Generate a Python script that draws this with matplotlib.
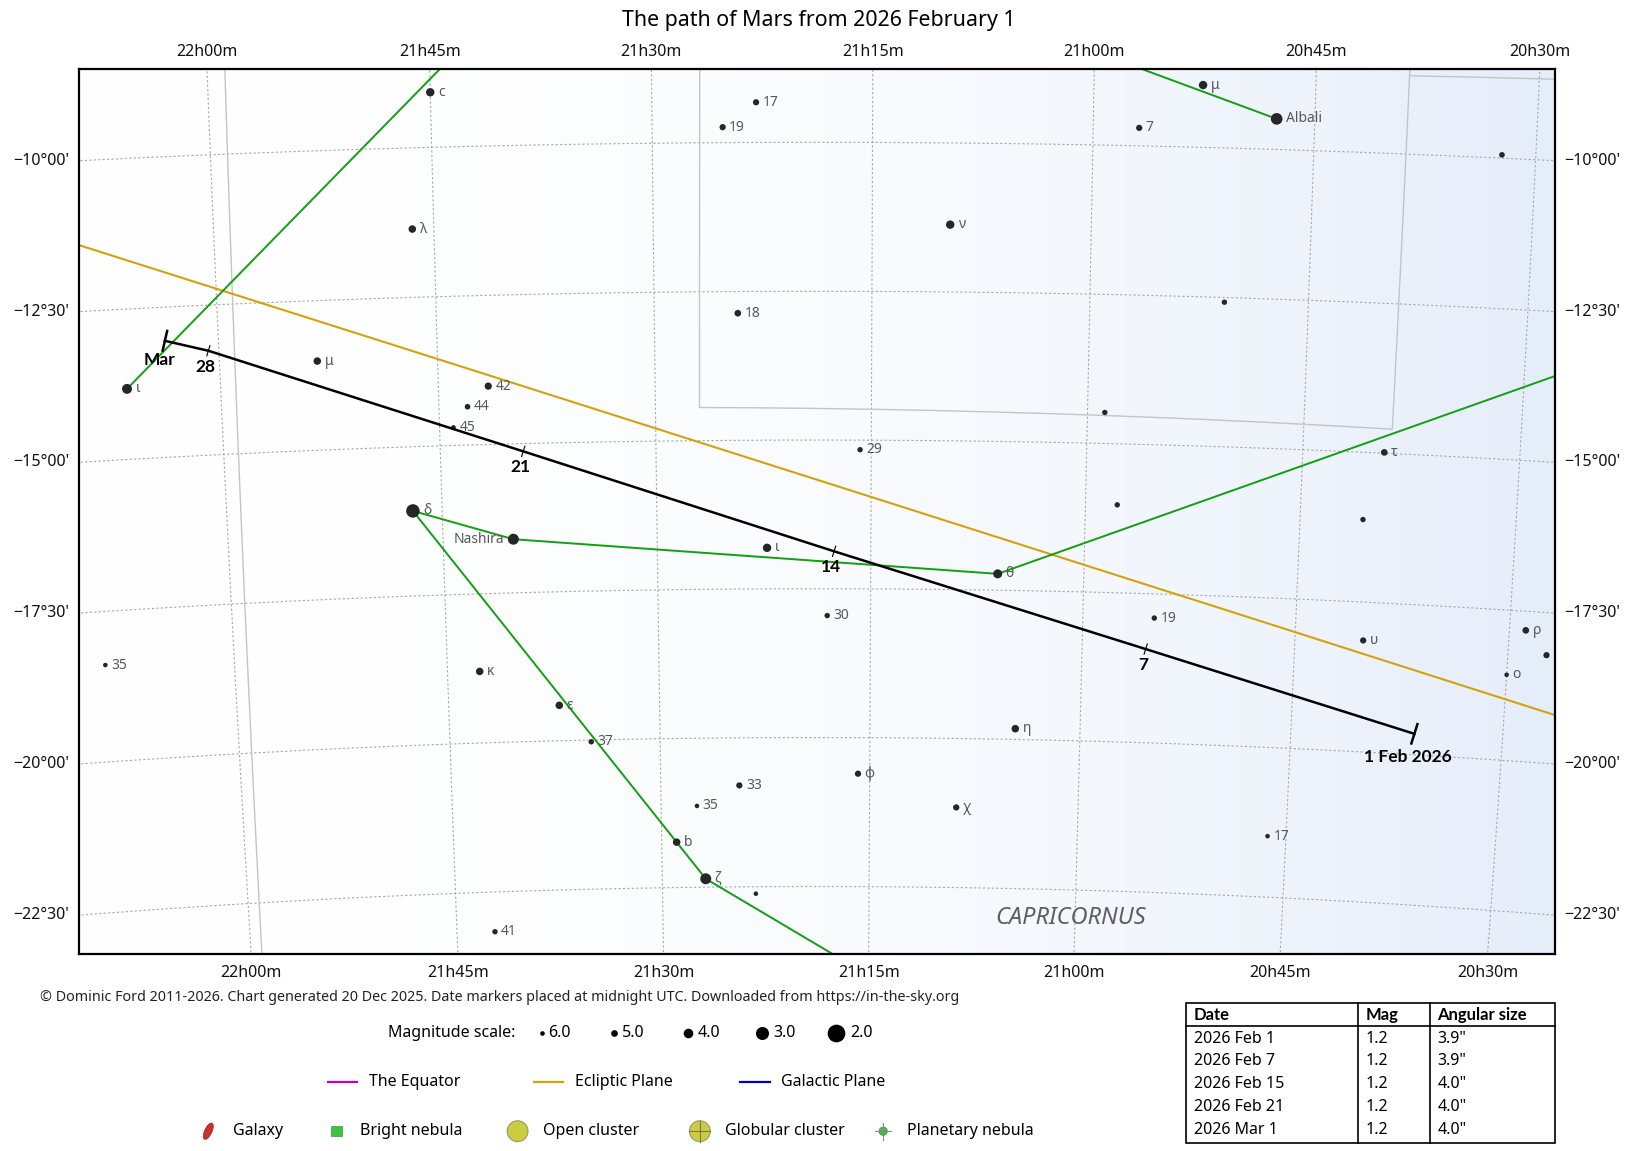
import numpy as np
import matplotlib.pyplot as plt
from matplotlib.patches import Ellipse, Rectangle, Circle

plt.rcParams['font.family'] = ['Noto Sans', 'DejaVu Sans']
BOLD = ['Lato', 'DejaVu Sans']

# -----data-----
title = "The path of Mars from 2026 February 1"

mars_label = ['1 Feb 2026', '7', '14', '21', '28', 'Mar']
mars_ra = [20.604, 20.925, 21.293, 21.654, 22.012, 22.061]   # hours
mars_dec = [-19.65, -18.43, -16.87, -15.13, -13.26, -13.06]  # degrees

star_key = ['c', 'lam', '17a', '19a', '18', 'mu_cap', 'iota_aqr', '42', '44', '45',
            'mu_aqr', 'albali', '7', 's1', 'nu_aqr', 's2', 's3', '29', 'tau',
            'delta', 'nashira', 'iota_cap', 'theta', 's4', 's5', '30', '19c',
            'upsilon', 'rho', 'pi', 'omicron', '35a', 'kappa', 'epsilon', '37',
            'eta', 'phi', '33', '35c', 'chi', '17c', 'b', 'zeta', 's6', '41']
star_label = ['c', 'λ', '17', '19', '18', 'μ', 'ι', '42', '44', '45',
              'μ', 'Albali', '7', '', 'ν', '', '', '29', 'τ',
              'δ', 'Nashira', 'ι', 'θ', '', '', '30', '19',
              'υ', 'ρ', '', 'ο', '35', 'κ', 'ε', '37',
              'η', 'φ', '33', '35', 'χ', '17', 'b', 'ζ', '', '41']
star_ra = [21.750, 21.7745, 21.382, 21.420, 21.404, 21.888, 22.107, 21.6925, 21.717, 21.734,
           20.877, 20.793, 20.948, 20.538, 21.161, 20.846, 20.980, 21.263, 20.656,
           21.784, 21.668, 21.3715, 21.101, 20.963, 20.677, 21.301, 20.916,
           20.670, 20.481, 20.455, 20.500, 22.151, 21.712, 21.619, 21.582,
           21.077, 21.264, 21.406, 21.457, 21.146, 20.772, 21.482, 21.4475, 21.387, 21.704]
star_dec = [-9.08, -11.357, -9.327, -9.741, -12.864, -13.51, -13.826, -14.022, -14.358, -14.699,
            -8.96, -9.49, -9.70, -9.945, -11.37, -12.579, -14.48, -15.161, -14.986,
            -16.075, -16.60, -16.81, -17.225, -16.025, -16.123, -17.951, -17.906,
            -18.14, -17.818, -18.207, -18.576, -18.39, -18.80, -19.406, -20.03,
            -19.82, -20.606, -20.799, -21.136, -21.157, -21.482, -21.739, -22.359, -22.617, -23.164]
star_mag = [4.4, 4.7, 5.2, 5.2, 5.0, 4.7, 3.9, 4.8, 5.5, 5.9,
            4.4, 3.4, 5.2, 5.5, 4.4, 5.6, 5.6, 5.6, 5.0,
            2.9, 3.6, 4.4, 4.2, 5.6, 5.6, 5.6, 5.6,
            5.2, 5.0, 5.2, 6.0, 6.0, 4.7, 4.7, 5.6,
            4.7, 5.2, 5.2, 6.0, 5.2, 6.0, 4.7, 3.6, 6.0, 5.6]

# stars off the chart that constellation lines run to
off_key = ['beta_aqr', 'alpha2_cap', 'omega_cap']
off_ra = [21.526, 20.3008, 20.8636]
off_dec = [-5.571, -12.545, -26.919]

figure_lines = [('iota_aqr', 'beta_aqr'), ('albali', 'beta_aqr'), ('delta', 'nashira'),
                ('nashira', 'theta'), ('theta', 'alpha2_cap'), ('delta', 'zeta'),
                ('zeta', 'omega_cap')]

# constellation boundaries (ra hours, dec degrees)
boundaries = [
    ([21.9797, 21.9875], [-8.0, -24.3]),
    ([21.445, 21.449, 20.648, 20.645], [-8.0, -14.443, -14.593, -8.0]),
    ([20.645, 20.40], [-8.697, -8.63]),
]

table_date = ['2026 Feb 1', '2026 Feb 7', '2026 Feb 15', '2026 Feb 21', '2026 Mar 1']
table_mag = ['1.2', '1.2', '1.2', '1.2', '1.2']
table_size = ['3.9"', '3.9"', '4.0"', '4.0"', '4.0"']

legend_mags = [6.0, 5.0, 4.0, 3.0, 2.0]

# -----projection (stereographic, centred on the chart)-----
RA0, DEC0 = 21.313, -16.2
SCALE = 57.1  # layout px per degree


def proj(ra_h, dec_d):
    a = np.radians((np.asarray(ra_h, float) - RA0) * 15)
    d = np.radians(np.asarray(dec_d, float))
    d0 = np.radians(DEC0)
    cosc = np.sin(d0) * np.sin(d) + np.cos(d0) * np.cos(d) * np.cos(a)
    k = 2 / (1 + cosc)
    xi = k * np.cos(d) * np.sin(a)
    eta = k * (np.cos(d0) * np.sin(d) - np.sin(d0) * np.cos(d) * np.cos(a))
    return -np.degrees(xi), np.degrees(eta)


def diam(m):
    # star dot diameter in points
    return np.interp(m, [2, 3, 4, 5, 6], [17, 12.5, 9.2, 6.4, 4.4]) * 0.75


W, H = 1568.0, 1105.0
fig = plt.figure(figsize=(16.33, 11.51), dpi=100)
ax = fig.add_axes([76 / W, 1 - 916 / H, 1417 / W, 850 / H])
x0, x1 = -1417 / 2 / SCALE, 1417 / 2 / SCALE
y0, y1 = -850 / 2 / SCALE, 850 / 2 / SCALE
ax.set_xlim(x0, x1)
ax.set_ylim(y0, y1)
ax.set_xticks([])
ax.set_yticks([])
for s in ax.spines.values():
    s.set_linewidth(1.6)
    s.set_zorder(20)

# milky way tint
t = np.linspace(0, 1, 400) ** 2.2
bg = np.ones((2, 400, 3))
for i, c in enumerate([0.10, 0.07, 0.02]):
    bg[:, :, i] = 1 - c * t
ax.imshow(bg, extent=(x0, x1, y0, y1), aspect='auto', zorder=0, interpolation='bilinear')

grid_kw = dict(color='#a8a8a8', lw=0.8, linestyle=(0, (2, 2)), zorder=1)
lab_kw = dict(fontsize=11.5, color='#111111', annotation_clip=False)

# RA lines
for h in np.arange(20.25, 22.51, 0.25):
    decs = np.linspace(-30, -3, 600)
    X, Y = proj(np.full_like(decs, h), decs)
    ax.plot(X, Y, **grid_kw)
    if 20.4 < h < 22.1:
        txt = "%02dh%02dm" % (int(h), round((h % 1) * 60))
        ax.annotate(txt, (np.interp(y1, Y, X), y1), xytext=(0, 6), textcoords='offset points',
                    ha='center', va='bottom', **lab_kw)
        ax.annotate(txt, (np.interp(y0, Y, X), y0), xytext=(0, -8), textcoords='offset points',
                    ha='center', va='top', **lab_kw)

# Dec lines
for dd in np.arange(-25, -7.4, 2.5):
    ras = np.linspace(19.9, 22.6, 600)
    X, Y = proj(ras, np.full_like(ras, dd))
    ax.plot(X, Y, **grid_kw)
    if -23 < dd < -9:
        deg = int(abs(dd))
        mins = int(round((abs(dd) - deg) * 60))
        txt = "\u2212%d\u00b0%02d'" % (deg, mins)
        ax.annotate(txt, (x0, np.interp(x0, X[::-1], Y[::-1])), xytext=(-7, 0),
                    textcoords='offset points', ha='right', va='center', **lab_kw)
        ax.annotate(txt, (x1, np.interp(x1, X[::-1], Y[::-1])), xytext=(7, 0),
                    textcoords='offset points', ha='left', va='center', **lab_kw)

# boundaries
for bra, bdec in boundaries:
    pts_ra, pts_dec = [], []
    for i in range(len(bra) - 1):
        pts_ra.extend(np.linspace(bra[i], bra[i + 1], 60))
        pts_dec.extend(np.linspace(bdec[i], bdec[i + 1], 60))
    X, Y = proj(pts_ra, pts_dec)
    ax.plot(X, Y, color='#c4c4c4', lw=1.0, zorder=1.5)

# ecliptic
eps = np.radians(23.44)
lam = np.radians(np.linspace(270, 360, 400))
ecl_ra = (np.degrees(np.arctan2(np.sin(lam) * np.cos(eps), np.cos(lam))) % 360) / 15
ecl_dec = np.degrees(np.arcsin(np.sin(lam) * np.sin(eps)))
X, Y = proj(ecl_ra, ecl_dec)
ax.plot(X, Y, color='#d4a20a', lw=1.5, zorder=2)

# constellation figures
pos = {}
for k, r, d in zip(star_key + off_key, star_ra + off_ra, star_dec + off_dec):
    pos[k] = proj(r, d)
for a, b in figure_lines:
    ax.plot([pos[a][0], pos[b][0]], [pos[a][1], pos[b][1]], color='#10a010', lw=1.4, zorder=3)

# stars
SX, SY = proj(star_ra, star_dec)
dm = diam(np.array(star_mag))
ax.scatter(SX, SY, s=dm ** 2, c='#262626', linewidths=0, zorder=5)
for x, y, lbl, dd in zip(SX, SY, star_label, dm):
    if not lbl:
        continue
    if lbl == 'Nashira':
        ax.annotate(lbl, (x, y), xytext=(-(dd / 2 + 2.5), 0), textcoords='offset points',
                    ha='right', va='center', fontsize=10, color='#585858', zorder=6)
    else:
        ax.annotate(lbl, (x, y), xytext=(dd / 2 + 2.5, 0), textcoords='offset points',
                    ha='left', va='center', fontsize=10, color='#585858', zorder=6)

cx, cy = proj(21.005, -22.97)
ax.text(cx, cy, 'CAPRICORNUS', fontstyle='italic', fontsize=17, color='#5e5e5e',
        ha='center', va='center', zorder=6)

# mars path
MX, MY = proj(mars_ra, mars_dec)
ax.plot(MX, MY, color='black', lw=1.8, zorder=7)
for i in range(len(MX)):
    j0, j1 = max(i - 1, 0), min(i + 1, len(MX) - 1)
    dx, dy = MX[j1] - MX[j0], MY[j1] - MY[j0]
    n = np.hypot(dx, dy)
    px, py = -dy / n, dx / n
    end = i in (0, len(MX) - 1)
    half = 0.17 if end else 0.09
    ax.plot([MX[i] - half * px, MX[i] + half * px], [MY[i] - half * py, MY[i] + half * py],
            color='black', lw=1.8 if end else 0.8, zorder=7)
    off = {0: (-4.5, -16.5), len(MX) - 1: (-3.6, -13.5)}.get(i, (-2, -11.5))
    ax.annotate(mars_label[i], (MX[i], MY[i]), xytext=off, textcoords='offset points',
                ha='center', va='center', fontsize=12.5, fontweight='bold', family=BOLD,
                zorder=8)

# -----title & legend-----
fig.text(786 / W, 1 - 20 / H, title, ha='center', va='center', fontsize=15.4)

lax = fig.add_axes([0, 0, 1, 1], zorder=-1)
lax.set_xlim(0, W)
lax.set_ylim(H, 0)
lax.axis('off')

lax.text(38, 958, "\u00a9 Dominic Ford 2011-2026. Chart generated 20 Dec 2025. Date markers placed at "
         "midnight UTC. Downloaded from https://in-the-sky.org",
         ha='left', va='center', fontsize=10.3, color='#222222')

lax.text(495, 992, 'Magnitude scale:', ha='right', va='center', fontsize=11.5)
for xm, m in zip([520, 590, 661, 732, 803], legend_mags):
    lax.scatter([xm], [992], s=diam(m) ** 2, c='black', linewidths=0)
    lax.text(xm + diam(m) / 1.4 + 4, 992, '%.1f' % m, ha='left', va='center', fontsize=11.5)

for xl, col, name in [(315, '#c000c0', 'The Equator'), (513, '#d4a20a', 'Ecliptic Plane'),
                      (711, '#0000c8', 'Galactic Plane')]:
    lax.plot([xl, xl + 28], [1039, 1039], color=col, lw=1.6)
    lax.text(xl + 39, 1039, name, ha='left', va='center', fontsize=11.5)

ly = 1086
lax.add_patch(Ellipse((200, ly), 7, 17, angle=25, facecolor='#c8302a', edgecolor='#a02020', lw=0.5))
lax.text(224, ly, 'Galaxy', ha='left', va='center', fontsize=11.5)
lax.add_patch(Rectangle((318, ly - 5), 10, 10, facecolor='#40c040', edgecolor='#30a030', lw=0.5))
lax.text(346, ly, 'Bright nebula', ha='left', va='center', fontsize=11.5)
lax.add_patch(Circle((497, ly), 10, facecolor='#cccc40', edgecolor='#999966', lw=0.8))
lax.text(521, ly, 'Open cluster', ha='left', va='center', fontsize=11.5)
lax.add_patch(Circle((672, ly), 10, facecolor='#cccc40', edgecolor='#999966', lw=0.8))
lax.plot([662, 682], [ly, ly], color='#777755', lw=0.8)
lax.plot([672, 672], [ly - 10, ly + 10], color='#777755', lw=0.8)
lax.text(696, ly, 'Globular cluster', ha='left', va='center', fontsize=11.5)
lax.plot([840, 856], [ly, ly], color='#888888', lw=0.8)
lax.plot([848, 848], [ly - 8, ly + 8], color='#888888', lw=0.8)
lax.add_patch(Circle((848, ly), 4, facecolor='#40c040', edgecolor='#309030', lw=0.5))
lax.text(871, ly, 'Planetary nebula', ha='left', va='center', fontsize=11.5)

# table
tx0, tx1, ty0, ty1 = 1139, 1493, 963, 1097
lax.add_patch(Rectangle((tx0, ty0), tx1 - tx0, ty1 - ty0, fill=False, edgecolor='black', lw=1.2))
for xc in [1304, 1373]:
    lax.plot([xc, xc], [ty0, ty1], color='black', lw=1.2)
lax.plot([tx0, tx1], [985, 985], color='black', lw=1.2)
cols = [tx0 + 7, 1311, 1380]
for xc, head in zip(cols, ['Date', 'Mag', 'Angular size']):
    lax.text(xc, 974, head, ha='left', va='center', fontsize=12, fontweight='bold', family=BOLD)
for r, (dt, mg, sz) in enumerate(zip(table_date, table_mag, table_size)):
    yy = 997 + 22 * r
    for xc, v in zip(cols, [dt, mg, sz]):
        lax.text(xc, yy, v, ha='left', va='center', fontsize=11.5)

fig.savefig('out.png', dpi=100)
